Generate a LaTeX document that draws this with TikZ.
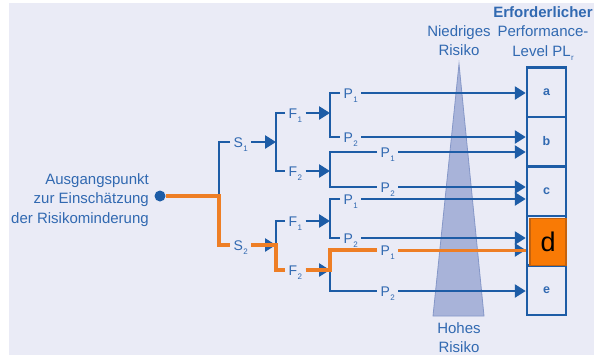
\documentclass[tikz,border=0pt]{standalone}
\usepackage{fontspec}
\setmainfont{Liberation Sans}
\usetikzlibrary{arrows.meta}

\definecolor{bgcol}{HTML}{EAEBF6}
\definecolor{linecol}{HTML}{1D5CA6}
\definecolor{textcol}{HTML}{3169B1}
\definecolor{pathcol}{HTML}{EE7E25}
\definecolor{dfill}{HTML}{F97A05}
\definecolor{dedge}{HTML}{C4620E}
\definecolor{trifill}{HTML}{A8B3D9}
\definecolor{triedge}{HTML}{8597C8}

\newcommand{\lowidx}[1]{\kern.3pt\raisebox{-4pt}{\fontsize{8}{8}\selectfont #1}}

\tikzset{
  lbl/.style={font=\fontsize{14}{14}\selectfont, text=textcol, text height=10pt, text depth=0pt, inner xsep=3.5pt, inner ysep=0pt, anchor=west},
  txt/.style={font=\fontsize{15}{19.5}\selectfont, text=textcol, inner sep=0pt, align=center},
  lvl/.style={draw=linecol, line width=2.5pt, minimum width=39pt, minimum height=49.5pt, inner sep=0pt, font=\fontsize{12.5}{12.5}\selectfont\bfseries, text=textcol},
  ln/.style={draw=linecol, line width=2.6pt},
  arr/.style={ln, -{Triangle[length=11pt,width=13pt]}},
  hot/.style={draw=pathcol, line width=4pt},
}

\begin{document}
\begin{tikzpicture}[x=1pt, y=-1pt]
    \useasboundingbox (0,0) rectangle (594,357);
    \fill[bgcol] (9,3) rectangle (594,355);

    \filldraw[fill=trifill, draw=triedge, line width=.8pt] (459,64) -- (484,316) -- (433,316) -- cycle;

    \node[txt, anchor=north] (low) at (459,25) {Niedriges\\Risiko};
    \node[txt, anchor=north] (high) at (459,322) {Hohes\\Risiko};
    \node[txt, anchor=north] (plr) at (543,6) {\textbf{Erforderlicher}\\Performance-\\Level PL\lowidx{r}};
    \node[txt, align=right, anchor=north east] (start) at (149,173) {Ausgangspunkt\\zur Einschätzung\\der Risikominderung};
    \node[circle, fill=linecol, minimum size=11pt, inner sep=0pt] (dot) at (160,196) {};

    % levels a-e
    \node[lvl] (a) at (546.5,92) {a};
    \node[lvl] (b) at (546.5,141.5) {b};
    \node[lvl] (c) at (546.5,191) {c};
    \node[lvl] (d) at (546.5,240.5) {};
    \node[lvl] (e) at (546.5,290) {e};

    \coordinate (xs) at (219,0);
    \coordinate (xf) at (276,0);
    \coordinate (xp) at (330,0);

    \node[lbl] (s1) at (230,142) {S\lowidx{1}};
    \node[lbl] (s2) at (230,245) {S\lowidx{2}};

    \node[lbl] (f11) at (285,113) {F\lowidx{1}};
    \node[lbl] (f12) at (285,171) {F\lowidx{2}};
    \node[lbl] (f21) at (285,221) {F\lowidx{1}};
    \node[lbl] (f22) at (285,270) {F\lowidx{2}};

    \node[lbl] (p111) at (340,93) {P\lowidx{1}};
    \node[lbl] (p112) at (340,137) {P\lowidx{2}};
    \node[lbl] (p121) at (377,152) {P\lowidx{1}};
    \node[lbl] (p122) at (377,187) {P\lowidx{2}};
    \node[lbl] (p211) at (340,199) {P\lowidx{1}};
    \node[lbl] (p212) at (340,238) {P\lowidx{2}};
    \node[lbl] (p221) at (377,250) {P\lowidx{1}};
    \node[lbl] (p222) at (377,291) {P\lowidx{2}};

    % tree
    \draw[ln] (s1.west) -- (s1.west -| xs) -- (s2.west -| xs) -- (s2.west);
    \draw[arr] (s1.east) -- (s1.east -| xf);
    \draw[arr] (s2.east) -- (s2.east -| xf);

    \draw[ln] (f11.west) -- (f11.west -| xf) -- (f12.west -| xf) -- (f12.west);
    \draw[ln] (f21.west) -- (f21.west -| xf) -- (f22.west -| xf) -- (f22.west);
    \draw[arr] (f11.east) -- (f11.east -| xp);
    \draw[arr] (f12.east) -- (f12.east -| xp);
    \draw[arr] (f21.east) -- (f21.east -| xp);
    \draw[arr] (f22.east) -- (f22.east -| xp);

    \draw[ln] (p111.west) -- (p111.west -| xp) -- (p112.west -| xp) -- (p112.west);
    \draw[ln] (p121.west) -- (p121.west -| xp) -- (p122.west -| xp) -- (p122.west);
    \draw[ln] (p211.west) -- (p211.west -| xp) -- (p212.west -| xp) -- (p212.west);
    \draw[ln] (p221.west) -- (p221.west -| xp) -- (p222.west -| xp) -- (p222.west);

    \draw[arr] (p111.east) -- (p111.east -| a.west);
    \draw[arr] (p112.east) -- (p112.east -| b.west);
    \draw[arr] (p121.east) -- (p121.east -| b.west);
    \draw[arr] (p122.east) -- (p122.east -| c.west);
    \draw[arr] (p211.east) -- (p211.east -| c.west);
    \draw[arr] (p212.east) -- (p212.east -| d.west);
    \draw[arr] (p221.east) -- (p221.east -| d.west);
    \draw[arr] (p222.east) -- (p222.east -| e.west);

    % path to d
    \node[fill=dfill, draw=dedge, line width=1.2pt, minimum width=36pt, minimum height=47pt, inner sep=0pt, font=\fontsize{27}{27}\selectfont] (dmark) at (548,242) {d};
    \draw[hot] (dot.east) -- (dot.east -| xs) -- (s2.west -| xs) -- (s2.west);
    \draw[hot] (s2.east) -- (s2.east -| xf) -- (f22.west -| xf) -- (f22.west);
    \draw[hot] (f22.east) -- (f22.east -| xp) -- (p221.west -| xp) -- (p221.west);
    \draw[hot, line width=3pt] (p221.east) -- (p221.east -| d.west);
\end{tikzpicture}
\end{document}
